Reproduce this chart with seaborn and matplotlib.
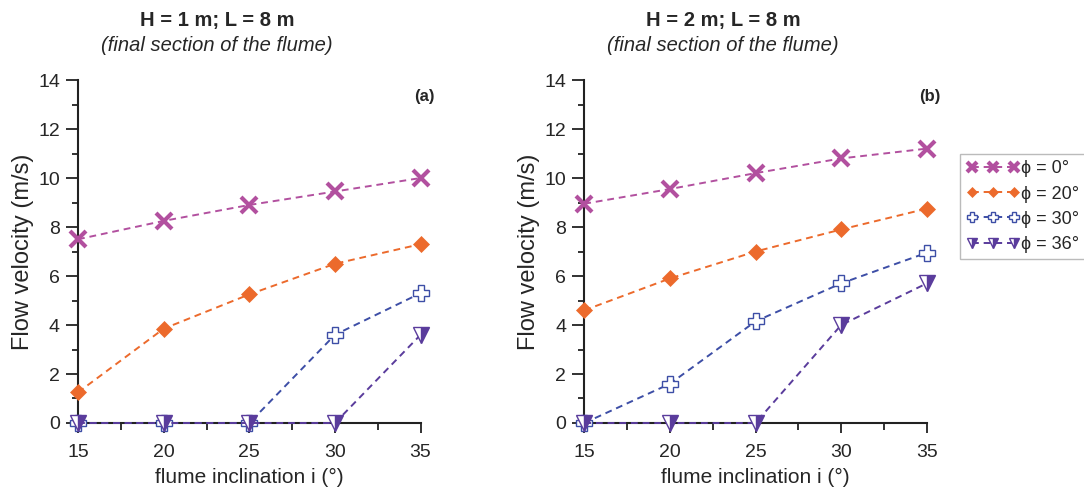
import numpy as np
import pandas as pd
import matplotlib
matplotlib.use("Agg")
import matplotlib.pyplot as plt
from matplotlib.ticker import MultipleLocator
import seaborn as sns

sns.set_style("ticks")
plt.rcParams['font.family'] = ['Liberation Sans', 'DejaVu Sans']

inclination = [15, 20, 25, 30, 35]
series_labels = ["ϕ = 0°", "ϕ = 20°", "ϕ = 30°", "ϕ = 36°"]

a_phi0 = [7.5, 8.25, 8.9, 9.45, 10.0]
a_phi20 = [1.25, 3.85, 5.25, 6.5, 7.3]
a_phi30 = [0, 0, 0, 3.6, 5.3]
a_phi36 = [0, 0, 0, 0, 3.6]

b_phi0 = [8.95, 9.55, 10.2, 10.8, 11.2]
b_phi20 = [4.6, 5.9, 7.0, 7.9, 8.75]
b_phi30 = [0, 1.6, 4.15, 5.7, 6.95]
b_phi36 = [0, 0, 0, 4.0, 5.7]

titles = ["H = 1 m; L = 8 m", "H = 2 m; L = 8 m"]
subtitle = "(final section of the flume)"
panel_tags = ["(a)", "(b)"]

colors = ["#b2509f", "#ec6a2c", "#3d4ea6", "#5a3c9c"]
styles = [
    dict(marker="x", markersize=11, markeredgewidth=3.0),
    dict(marker="D", markersize=8, markeredgewidth=0.5),
    dict(marker="P", markersize=12, markerfacecolor="white", markeredgewidth=1.0),
    dict(marker="v", markersize=11, fillstyle="right", markerfacecoloralt="white", markeredgewidth=1.0),
]

fig = plt.figure(figsize=(10.84, 4.91), dpi=100)
ax_a = fig.add_axes([0.072, 0.1385, 0.316, 0.6985])
ax_b = fig.add_axes([0.539, 0.1385, 0.316, 0.6985])

panels = [
    (ax_a, [a_phi0, a_phi20, a_phi30, a_phi36]),
    (ax_b, [b_phi0, b_phi20, b_phi30, b_phi36]),
]

for k, (ax, data) in enumerate(panels):
    for j, (vals, col, st) in enumerate(zip(data, colors, styles)):
        df = pd.DataFrame({"x": inclination, "y": vals})
        sns.lineplot(data=df, x="x", y="y", ax=ax, color=col, linestyle=(0, (3.5, 2.5)),
                     linewidth=1.4, markeredgecolor=col, clip_on=False, zorder=3 + j,
                     label=series_labels[j], legend=False, **st)
    ax.set_xlim(15, 35)
    ax.set_ylim(0, 14)
    ax.xaxis.set_major_locator(MultipleLocator(5))
    ax.xaxis.set_minor_locator(MultipleLocator(2.5))
    ax.yaxis.set_major_locator(MultipleLocator(2))
    ax.yaxis.set_minor_locator(MultipleLocator(1))
    ax.tick_params(which="both", width=1.3, labelsize=14, direction="out", color="#222222")
    ax.tick_params(axis="x", which="major", length=7, pad=8)
    ax.tick_params(axis="x", which="minor", length=5)
    ax.tick_params(axis="y", which="major", length=9, pad=4)
    ax.tick_params(axis="y", which="minor", length=4.5)
    sns.despine(ax=ax)
    for sp in ["left", "bottom"]:
        ax.spines[sp].set_linewidth(1.5)
        ax.spines[sp].set_color("#222222")
    ax.set_xlabel("flume inclination i (°)", fontsize=15, labelpad=5)
    ax.set_ylabel("Flow velocity (m/s)", fontsize=17, labelpad=3)
    ax.text(0.405, 1.175, titles[k], transform=ax.transAxes, ha="center", va="center",
            fontsize=14.5, fontweight="bold")
    ax.text(0.405, 1.10, subtitle, transform=ax.transAxes, ha="center", va="center",
            fontsize=14.5, fontstyle="italic")
    ax.text(1.04, 0.952, panel_tags[k], transform=ax.transAxes, ha="right", va="center",
            fontsize=12, fontweight="bold")

h, l = ax_b.get_legend_handles_labels()
leg = fig.legend(h, l, loc="upper left", bbox_to_anchor=(0.886, 0.686), numpoints=3,
                 handlelength=2.9, handletextpad=0.1, fontsize=13, frameon=True,
                 fancybox=False, edgecolor="#aaaaaa", borderpad=0.35, labelspacing=0.45,
                 markerscale=0.65, borderaxespad=0)
leg.get_frame().set_linewidth(1.0)

fig.savefig("out.png", dpi=100)
